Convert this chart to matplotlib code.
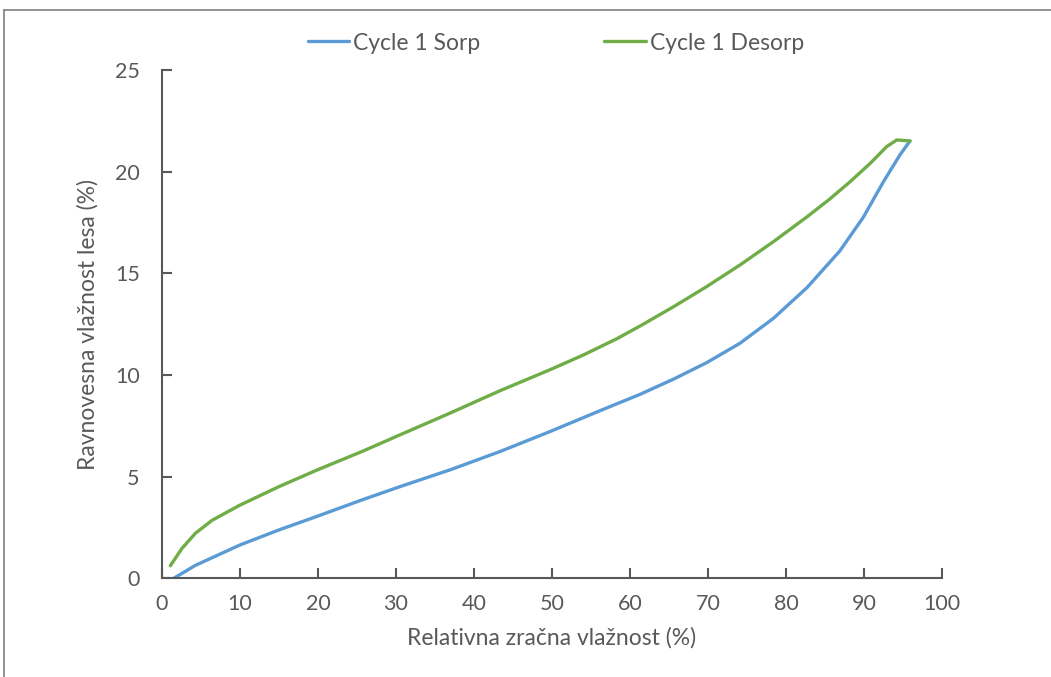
import matplotlib
matplotlib.use("Agg")
import matplotlib.pyplot as plt
from matplotlib.lines import Line2D

# Data
sorp_rh = [1.5, 4.3, 10.0, 15.0, 19.9, 25.6, 30.6, 36.9, 43.3, 49.7, 56.2, 61.3, 65.6, 69.8,
           74.1, 78.4, 82.7, 86.9, 89.9, 92.5, 94.6, 95.9]
sorp_emc = [0.0, 0.64, 1.64, 2.38, 3.05, 3.85, 4.52, 5.33, 6.23, 7.21, 8.25, 9.05, 9.8, 10.6,
            11.56, 12.79, 14.3, 16.1, 17.75, 19.51, 20.82, 21.51]

desorp_rh = [1.07, 2.56, 4.27, 6.41, 10.0, 15.0, 19.9, 25.6, 30.6, 36.9, 43.3, 49.7, 54.0, 58.3,
             61.3, 65.6, 69.8, 74.1, 78.4, 82.7, 85.6, 88.2, 90.8, 92.9, 94.2, 95.9]
desorp_emc = [0.62, 1.47, 2.21, 2.85, 3.6, 4.51, 5.33, 6.23, 7.07, 8.12, 9.22, 10.25, 10.98, 11.78,
              12.41, 13.36, 14.34, 15.41, 16.56, 17.78, 18.65, 19.5, 20.41, 21.23, 21.56, 21.51]

x_ticks = [0, 10, 20, 30, 40, 50, 60, 70, 80, 90, 100]
y_ticks = [0, 5, 10, 15, 20, 25]
x_label = "Relativna zračna vlažnost (%)"
y_label = "Ravnovesna vlažnost lesa (%)"
series_names = ["Cycle 1 Sorp", "Cycle 1 Desorp"]

plt.rcParams['font.family'] = ['Lato', 'DejaVu Sans']
TXT = '#595959'
AX = '#595959'

fig = plt.figure(figsize=(10.51, 6.77), dpi=100)
ax = fig.add_axes([162/1051, 1 - 578.3/677, 780/1051, 508.3/677])

ax.plot(sorp_rh, sorp_emc, color='#5B9BD5', lw=2.4, label=series_names[0],
        solid_capstyle='round', solid_joinstyle='round')
ax.plot(desorp_rh, desorp_emc, color='#70AD47', lw=2.4, label=series_names[1],
        solid_capstyle='round', solid_joinstyle='round')

ax.set_xlim(0, 100)
ax.set_ylim(0, 25)
ax.set_xticks(x_ticks)
ax.set_yticks(y_ticks)
for s in ['top', 'right']:
    ax.spines[s].set_visible(False)
for s in ['left', 'bottom']:
    ax.spines[s].set_color(AX)
    ax.spines[s].set_linewidth(1.5)
ax.tick_params(direction='in', length=7, width=1.5, color=AX, labelcolor=TXT, labelsize=15.5)
ax.tick_params(axis='x', pad=11)
ax.tick_params(axis='y', pad=16)
ax.set_xlabel(x_label, color=TXT, fontsize=16.5, labelpad=10)
ax.set_ylabel(y_label, color=TXT, fontsize=16.5, labelpad=12)

fig.legend(loc='center', bbox_to_anchor=(556/1051, 1 - 43/677), ncol=2, frameon=False,
           fontsize=16.5, handlelength=1.8, columnspacing=5.4, handletextpad=0.2,
           labelcolor=TXT)

# outer frame (top and left edges visible in the reference)
fig.add_artist(Line2D([4/1051, 4/1051], [0, 1 - 10/677], transform=fig.transFigure, color='#7f7f7f', lw=1.2))
fig.add_artist(Line2D([4/1051, 1], [1 - 10/677, 1 - 10/677], transform=fig.transFigure, color='#7f7f7f', lw=1.2))

fig.savefig('out.png', dpi=100)
